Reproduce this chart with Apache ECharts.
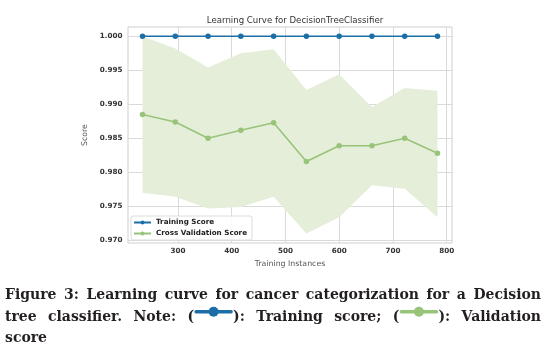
<!DOCTYPE html>
<html><head><meta charset="utf-8">
<script src="https://cdn.jsdelivr.net/npm/echarts@6/dist/echarts.min.js"></script>
<style>html,body{margin:0;padding:0;background:#fff}#c{width:558px;height:355px}</style>
</head><body><div id="c"></div>
<script>
// ---- data ----
const trainSizes = [234, 295, 356, 417, 478, 539, 600, 661, 722, 783];
const trainScores = [1, 1, 1, 1, 1, 1, 1, 1, 1, 1];
const cvScores = [0.9885, 0.9874, 0.9850, 0.9862, 0.9873, 0.9816, 0.9839, 0.9839, 0.9850, 0.9828];
const cvUpper = [1.0000, 0.9982, 0.9954, 0.9975, 0.9981, 0.9921, 0.9944, 0.9896, 0.9924, 0.9920];
const cvLower = [0.9770, 0.9764, 0.9747, 0.9749, 0.9764, 0.9710, 0.9734, 0.9781, 0.9776, 0.9734];
const xTicks = [300, 400, 500, 600, 700, 800];
const yTicks = [0.970, 0.975, 0.980, 0.985, 0.990, 0.995, 1.000];
const titleText = 'Learning Curve for DecisionTreeClassifier';
const xName = 'Training Instances';
const yName = 'Score';
const seriesNames = ['Training Score', 'Cross Validation Score'];
const captionLines = [
  ['Figure', '3:', 'Learning', 'curve', 'for', 'cancer', 'categorization', 'for', 'a', 'Decision'],
  ['tree', 'classifier.', 'Note:', ['(', 'ICON0', '):'], 'Training', 'score;', ['(', 'ICON1', '):'], 'Validation'],
  ['score']
];

const BLUE = '#1c6fa6';
const GREEN = '#98c47a';
const BAND = '#e5eed9';

const chart = echarts.init(document.getElementById('c'), null, {renderer: 'canvas'});

// ---- caption layout (justified) ----
const capFont = 'bold 14px "DejaVu Serif"';
const mctx = document.createElement('canvas').getContext('2d');
mctx.font = capFont;
const tw = t => mctx.measureText(t).width;
const ICON_W = 35, ICON_PAD = 2;
const capLeft = 5, capRight = 541;
const baselines = [301, 323, 344];
const iconColors = [BLUE, GREEN];
const graphics = [];
function tokWidth(tok) {
  if (typeof tok === 'string') return tw(tok);
  let w = 0;
  tok.forEach(p => { w += p.startsWith('ICON') ? ICON_W + 2 * ICON_PAD : tw(p); });
  return w;
}
captionLines.forEach((line, li) => {
  const widths = line.map(tokWidth);
  const total = widths.reduce((a, b) => a + b, 0);
  const justify = li < captionLines.length - 1;
  const gap = justify ? (capRight - capLeft - total) / (line.length - 1) : tw(' ');
  let x = capLeft;
  const yMid = baselines[li] - 5.2;
  line.forEach((tok, ti) => {
    const parts = typeof tok === 'string' ? [tok] : tok;
    let px = x;
    parts.forEach(p => {
      if (p.startsWith('ICON')) {
        const col = iconColors[+p.slice(4)];
        const x0 = px + ICON_PAD, x1 = x0 + ICON_W, yc = baselines[li] - 11.3;
        graphics.push({type: 'line', shape: {x1: x0, y1: yc, x2: x1, y2: yc}, style: {stroke: col, lineWidth: 3.5, lineCap: 'round'}, silent: true});
        graphics.push({type: 'circle', shape: {cx: (x0 + x1) / 2, cy: yc, r: 5}, style: {fill: col}, silent: true});
        px += ICON_W + 2 * ICON_PAD;
      } else {
        graphics.push({type: 'text', x: px, y: yMid, style: {text: p, font: capFont, fill: '#231f20', verticalAlign: 'middle', align: 'left'}, silent: true});
        px += tw(p);
      }
    });
    x += widths[ti] + gap;
  });
});

const pairs = arr => trainSizes.map((x, i) => [x, arr[i]]);

chart.setOption({
  animation: false,
  backgroundColor: '#fff',
  title: {
    text: titleText, left: 290, top: 11, textAlign: 'center',
    textStyle: {fontFamily: 'DejaVu Sans', fontSize: 8.6, fontWeight: 'normal', color: '#333'}
  },
  grid: {left: 128, right: 106, top: 27, bottom: 112, show: true, borderColor: '#cfcfcf', borderWidth: 1, backgroundColor: '#fff'},
  legend: {
    data: seriesNames, orient: 'vertical', left: 131, top: 216,
    padding: [2, 5, 2, 2], itemGap: 2, itemWidth: 17, itemHeight: 5,
    backgroundColor: 'rgba(255,255,255,0.85)', borderColor: '#dcdcdc', borderWidth: 1, borderRadius: 2,
    textStyle: {fontFamily: 'DejaVu Sans', fontSize: 7.2, fontWeight: 'bold', color: '#222', lineHeight: 9}
  },
  xAxis: {
    type: 'value', min: 207, max: 810,
    name: xName, nameLocation: 'middle', nameGap: 15,
    nameTextStyle: {fontFamily: 'DejaVu Sans', fontSize: 7.8, color: '#555'},
    axisLine: {show: false}, axisTick: {show: false, customValues: xTicks},
    axisLabel: {customValues: xTicks, margin: 5, fontFamily: 'DejaVu Sans', fontSize: 7.2, fontWeight: 'bold', color: '#333'},
    splitLine: {show: true, lineStyle: {color: '#dadada', width: 1}}
  },
  yAxis: {
    type: 'value', min: 0.96962, max: 1.00136,
    name: yName, nameLocation: 'middle', nameGap: 31, nameRotate: 90,
    nameTextStyle: {fontFamily: 'DejaVu Sans', fontSize: 7.8, color: '#555'},
    axisLine: {show: false}, axisTick: {show: false, customValues: yTicks},
    axisLabel: {customValues: yTicks, margin: 5.5, fontFamily: 'DejaVu Sans', fontSize: 7.2, fontWeight: 'bold', color: '#333',
      formatter: v => v.toFixed(3)},
    splitLine: {show: true, lineStyle: {color: '#dadada', width: 1}}
  },
  series: [
    {name: 'cvBand', type: 'custom', silent: true, z: 1,
      data: trainSizes.map((x, i) => [x, cvLower[i], cvUpper[i]]),
      encode: {x: 0, y: [1, 2]},
      renderItem: (params, api) => {
        if (params.dataIndex !== 0) return null;
        const up = trainSizes.map((x, i) => api.coord([x, cvUpper[i]]));
        const lo = trainSizes.map((x, i) => api.coord([x, cvLower[i]])).reverse();
        return {type: 'polygon', shape: {points: up.concat(lo)}, style: {fill: BAND}};
      }},
    {name: seriesNames[0], type: 'line', data: pairs(trainScores), symbol: 'circle', symbolSize: 5.5,
      itemStyle: {color: BLUE}, lineStyle: {color: BLUE, width: 1.6}, z: 3},
    {name: seriesNames[1], type: 'line', data: pairs(cvScores), symbol: 'circle', symbolSize: 5.5,
      itemStyle: {color: GREEN}, lineStyle: {color: GREEN, width: 1.6}, z: 3}
  ],
  graphic: graphics
});
</script>
</body></html>
